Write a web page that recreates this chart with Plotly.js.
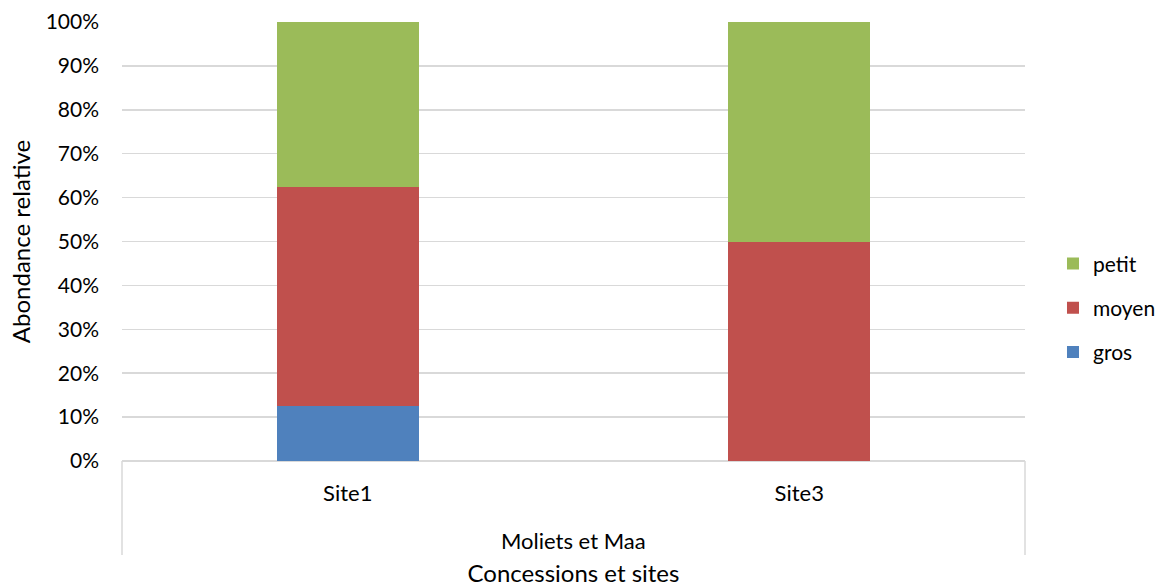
<!DOCTYPE html>
<html>
<head>
<meta charset="utf-8">
<script src="https://cdn.plot.ly/plotly-3.0.1.min.js"></script>
<style>
  html, body { margin: 0; padding: 0; background: #fff; }
  #chart { width: 1156px; height: 587px; }
</style>
</head>
<body>
<div id="chart"></div>
<script>
// Relative abundance of size classes per site (percent)
const groupLabel = "Moliets et Maa";
const sites = ["Site1", "Site3"];
const gros = [12.5, 0];
const moyen = [50, 50];
const petit = [37.5, 50];

const seriesNames = ["gros", "moyen", "petit"];
const seriesValues = [gros, moyen, petit];
const seriesColors = ["#4F81BD", "#C0504D", "#9BBB59"];
const yTickVals = [0, 10, 20, 30, 40, 50, 60, 70, 80, 90, 100];
const yTickText = yTickVals.map(v => v + "%");

const font = "Lato, 'Open Sans', sans-serif";
const divider = "#D9D9D9";

// Stack bottom-up, list top-down in the legend
const traces = seriesNames.map((name, i) => ({
  type: "bar",
  name: name,
  legendgroup: name,
  legendrank: seriesNames.length - i,
  x: sites,
  y: seriesValues[i],
  marker: { color: seriesColors[i], line: { width: 0 } },
  hoverinfo: "skip"
}));

const layout = {
  width: 1156,
  height: 587,
  margin: { l: 122, r: 131, t: 22, b: 126, autoexpand: false },
  barmode: "stack",
  bargap: 0.685,
  paper_bgcolor: "#fff",
  plot_bgcolor: "#fff",
  font: { family: font, size: 21, color: "#000" },
  showlegend: true,
  legend: {
    traceorder: "grouped",
    x: 1.031, xanchor: "left",
    y: 0.349, yanchor: "middle",
    font: { family: font, size: 21, color: "#000" },
    itemwidth: 30,
    tracegroupgap: 14,
    bgcolor: "rgba(0,0,0,0)"
  },
  xaxis: {
    type: "category",
    showgrid: false,
    showline: false,
    zeroline: false,
    ticks: "",
    ticklabelstandoff: 17,
    tickfont: { family: font, size: 22, color: "#000" },
    title: { text: "Concessions et sites", font: { family: font, size: 24, color: "#000" }, standoff: 70 }
  },
  yaxis: {
    range: [0, 100],
    tickvals: yTickVals,
    ticktext: yTickText,
    showgrid: true,
    gridcolor: "#D9D9D9",
    gridwidth: 1.5,
    zeroline: true,
    zerolinecolor: "#D9D9D9",
    zerolinewidth: 1.5,
    showline: false,
    ticks: "",
    ticklabelstandoff: 22,
    tickfont: { family: font, size: 21, color: "#000" },
    title: { text: "Abondance relative", font: { family: font, size: 24, color: "#000" }, standoff: 8 }
  },
  annotations: [{
    text: groupLabel,
    xref: "paper", yref: "paper",
    x: 0.5, y: -0.18,
    xanchor: "center", yanchor: "middle",
    showarrow: false,
    font: { family: font, size: 22, color: "#000" }
  }],
  shapes: [0, 1].map(px => ({
    type: "line",
    xref: "paper", yref: "paper",
    x0: px, x1: px, y0: 0, y1: -0.214,
    line: { color: divider, width: 1.5 }
  }))
};

Plotly.newPlot("chart", traces, layout, { displayModeBar: false, staticPlot: true });
</script>
</body>
</html>
